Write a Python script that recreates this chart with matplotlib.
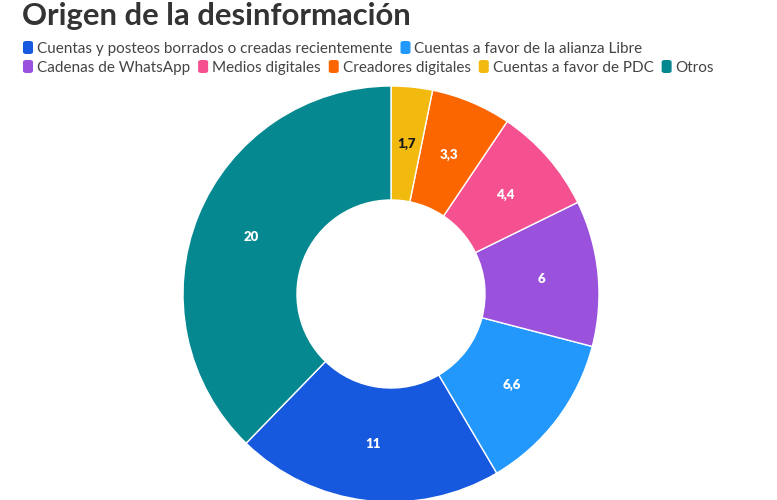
import matplotlib
matplotlib.use("Agg")
import matplotlib.pyplot as plt
from matplotlib.patches import FancyBboxPatch
import numpy as np

categories = [
    "Cuentas y posteos borrados o creadas recientemente",
    "Cuentas a favor de la alianza Libre",
    "Cadenas de WhatsApp",
    "Medios digitales",
    "Creadores digitales",
    "Cuentas a favor de PDC",
    "Otros",
]
values = [11, 6.6, 6, 4.4, 3.3, 1.7, 20]
colors = ["#1659DE", "#2298FD", "#9A52DC", "#F5508F", "#FC6600", "#F2B90F", "#068891"]
label_colors = ["white", "white", "white", "white", "white", "#1a1a1a", "white"]
title = "Origen de la desinformación"

W, H = 777, 500
fig = plt.figure(figsize=(W / 100, H / 100), dpi=100)
fig.patch.set_facecolor("white")

FONT = "Lato"

# Title
fig.text(22 / W, 1 - 25 / H, title, fontsize=22.3, fontweight="bold", family=FONT,
         color="#333333", ha="left", va="baseline")

# Donut
cx, cy, R = 391, 294, 208
ax = fig.add_axes([(cx - R) / W, (H - cy - R) / H, 2 * R / W, 2 * R / H])
total = sum(values)
# legend order drawn counter-clockwise, ending with "Otros" just left of 12 o'clock
start = 90 + 360 * values[-1] / total
inner = 0.452
wedges, _ = ax.pie(values, colors=colors, startangle=start, counterclock=True,
                   radius=1, wedgeprops=dict(width=1 - inner, edgecolor="white", linewidth=1))
rmid = (1 + inner) / 2
for w, v, lc in zip(wedges, values, label_colors):
    ang = np.deg2rad((w.theta1 + w.theta2) / 2)
    txt = (f"{v:g}").replace(".", ",")
    ax.text(rmid * np.cos(ang), rmid * np.sin(ang), txt, ha="center", va="center",
            fontsize=9.5, fontweight="heavy", family=FONT, color=lc)
ax.set_xlim(-1, 1)
ax.set_ylim(-1, 1)
ax.set_aspect("equal")
ax.axis("off")

# Legend (flow layout)
fig.canvas.draw()
renderer = fig.canvas.get_renderer()
x0 = 23
x = x0
row_baselines = [53, 72]
row = 0
maxw = 760
sq_w, sq_h = 10, 13
fs = 11
for i, (cat, col) in enumerate(zip(categories, colors)):
    t = fig.text(0, 0, cat, fontsize=fs, family=FONT, color="#444444")
    bb = t.get_window_extent(renderer)
    t.remove()
    tw = bb.width
    if x + sq_w + 4 + tw > maxw or i == 2:
        row += 1
        x = x0
    base = row_baselines[row]
    sq_top = base - 12
    fig.patches.append(FancyBboxPatch((x / W, 1 - (sq_top + sq_h) / H), sq_w / W, sq_h / H,
                                      boxstyle="round,pad=0,rounding_size=0.004",
                                      transform=fig.transFigure, facecolor=col,
                                      edgecolor="none", figure=fig))
    fig.text((x + sq_w + 4) / W, 1 - base / H, cat, fontsize=fs, family=FONT,
             color="#444444", ha="left", va="baseline")
    x += sq_w + 4 + tw + 8

fig.savefig("out.png", dpi=100, facecolor="white")
